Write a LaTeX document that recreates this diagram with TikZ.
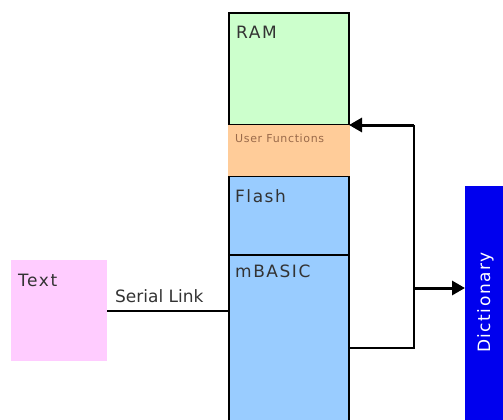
\documentclass[tikz,border=0pt]{standalone}
\usepackage{fontspec}
\setmainfont{DejaVu Sans}
\newfontfamily\spacedfont[LetterSpace=9]{DejaVu Sans}
\newfontfamily\smallspaced[LetterSpace=6]{DejaVu Sans}
\usetikzlibrary{arrows.meta}
\definecolor{ramgreen}{HTML}{CCFFCC}
\definecolor{userorange}{HTML}{FFCC99}
\definecolor{flashblue}{HTML}{99CCFF}
\definecolor{textpink}{HTML}{FFCCFF}
\definecolor{dictblue}{HTML}{0000EE}
\definecolor{txtgray}{HTML}{333333}
\definecolor{userbrown}{HTML}{9A6A4A}
\begin{document}
\begin{tikzpicture}[x=1pt,y=-1pt,
  lbl/.style={anchor=base west,inner sep=0pt,text=txtgray,font=\spacedfont\fontsize{17}{20}\selectfont},
  thinline/.style={draw=black,line width=1.3pt},
  thickarrow/.style={draw=black,line width=3pt,-{Triangle[length=13pt,width=14pt]}}]
\useasboundingbox (0,0) rectangle (503,420);
\clip (0,0) rectangle (503,420);
% memory column
\path[fill=ramgreen,draw=black,line width=1.3pt] (229,13) rectangle (349,125);
\path[fill=flashblue,draw=black,line width=1.3pt] (229,176) rectangle (349,255);
\path[fill=flashblue,draw=black,line width=1.3pt] (229,255) rectangle (349,430);
\path[fill=userorange] (228.3,125) rectangle (349.7,176);
\coordinate (ufR) at (349,125);
\coordinate (mbR) at (349,348);
\coordinate (mbL) at (229,311);
\node[lbl] (ram) at (236,39) {RAM};
\node[lbl,text=userbrown,font=\smallspaced\fontsize{11}{13}\selectfont] (uf) at (235,142.5) {User Functions};
\node[lbl] (flash) at (235,202) {Flash};
\node[lbl] (mbasic) at (235,277) {mBASIC};
% text box
\node[fill=textpink,minimum width=96pt,minimum height=101pt,inner sep=0pt,anchor=north west] (text) at (11,260) {};
\node[lbl] (textlbl) at (18,286) {Text};
\node[lbl,font=\fontsize{17}{20}\selectfont] (serial) at (115,302) {Serial Link};
\draw[thinline] (text.east |- mbL) -- (mbL);
% dictionary
\node[fill=dictblue,minimum width=40pt,minimum height=240pt,inner sep=0pt,anchor=north west] (dict) at (465,186) {};
\node[rotate=90,anchor=base,inner sep=0pt,text=white,font=\spacedfont\fontsize{17}{20}\selectfont] (dictlbl) at (490,302.5) {Dictionary};
% connectors
\coordinate (j1) at (414,348);
\coordinate (j2) at (414,125);
\coordinate (j3) at (414,288);
\draw[thinline] (mbR) -- (j1) -- (j2);
\draw[thickarrow] (j2) -- (ufR);
\draw[thickarrow] (j3) -- (j3 -| dict.west);
\end{tikzpicture}
\end{document}
